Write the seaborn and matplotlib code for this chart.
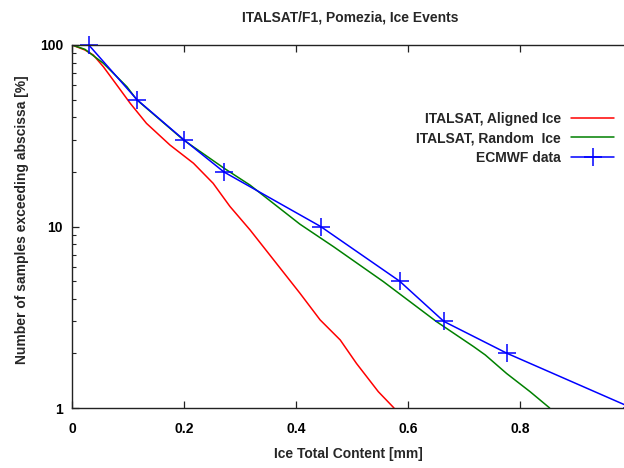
import numpy as np
import pandas as pd
import matplotlib
matplotlib.use('Agg')
import matplotlib.pyplot as plt
from matplotlib.ticker import LogLocator, FixedLocator, NullFormatter
import seaborn as sns

# values
aligned_x = [0.0, 0.023, 0.038, 0.056, 0.080, 0.104, 0.133, 0.175, 0.217, 0.252,
             0.282, 0.318, 0.407, 0.443, 0.479, 0.508, 0.547, 0.575]
aligned_y = [100, 93.9, 88.1, 75.9, 60.2, 47.7, 37.0, 28.1, 22.3, 17.3,
             12.9, 9.57, 4.29, 3.06, 2.37, 1.76, 1.23, 1.0]

random_x = [0.0, 0.023, 0.056, 0.098, 0.116, 0.199, 0.272, 0.318, 0.407, 0.467,
            0.556, 0.651, 0.717, 0.738, 0.776, 0.818, 0.853]
random_y = [100, 94.7, 79.3, 58.9, 49.8, 30.0, 20.9, 16.9, 10.3, 7.74,
            4.97, 2.99, 2.18, 1.96, 1.55, 1.23, 1.0]

ecmwf_x = [0.03, 0.116, 0.2, 0.271, 0.444, 0.585, 0.664, 0.777, 1.0]
ecmwf_y = [100, 50, 30, 20, 10, 5, 3, 2, 1]

x_ticks = [0, 0.2, 0.4, 0.6, 0.8]
x_tick_labels = ['0', '0.2', '0.4', '0.6', '0.8']
y_ticks = [1, 10, 100]
y_tick_labels = ['1', '10', '100']

sns.set_style('ticks')
plt.rcParams['font.family'] = ['Liberation Sans', 'DejaVu Sans']
plt.rcParams['font.weight'] = 'bold'
plt.rcParams['font.size'] = 10

fig = plt.figure(figsize=(6.24, 4.68), dpi=100)
ax = fig.add_axes([72 / 624, 1 - 408 / 468, 1 - 72 / 624, (408 - 45) / 468])

df_a = pd.DataFrame({'x': aligned_x, 'y': aligned_y})
df_r = pd.DataFrame({'x': random_x, 'y': random_y})
df_e = pd.DataFrame({'x': ecmwf_x, 'y': ecmwf_y})

sns.lineplot(data=df_a, x='x', y='y', ax=ax, color='#ff0000', lw=1.1,
             sort=False, estimator=None, label='ITALSAT, Aligned Ice')
sns.lineplot(data=df_r, x='x', y='y', ax=ax, color='#008000', lw=1.1,
             sort=False, estimator=None, label='ITALSAT, Random  Ice')
sns.lineplot(data=df_e, x='x', y='y', ax=ax, color='#0000ff', lw=1.1,
             sort=False, estimator=None, marker='+', markersize=13, mew=1.1,
             markeredgecolor='#0000ff', label='ECMWF data', clip_on=False)

ax.set_yscale('log')
ax.set_xlim(0, 552 / 560)
ax.set_ylim(1, 100)

ax.xaxis.set_major_locator(FixedLocator(x_ticks))
ax.set_xticklabels(x_tick_labels)
ax.yaxis.set_major_locator(FixedLocator(y_ticks))
ax.set_yticklabels(y_tick_labels)
ax.yaxis.set_minor_locator(LogLocator(base=10, subs=np.arange(2, 10)))
ax.yaxis.set_minor_formatter(NullFormatter())

ax.tick_params(axis='both', which='major', direction='in', length=5, width=0.9,
               top=True, right=False, labelsize=10, colors='#222222',
               labelcolor='black')
ax.tick_params(axis='y', which='minor', direction='in', length=3, width=0.8,
               right=False, colors='#222222')
ax.tick_params(axis='x', pad=10)
ax.tick_params(axis='y', pad=6.5)

for side in ['left', 'bottom', 'top']:
    ax.spines[side].set_linewidth(1.0)
    ax.spines[side].set_color('#222222')
ax.spines['right'].set_visible(False)

ax.set_xlabel('Ice Total Content [mm]', fontweight='bold', fontsize=10, labelpad=8)
ax.set_ylabel('Number of samples exceeding abscissa [%]', fontweight='bold',
              fontsize=10, va='center')
ax.yaxis.set_label_coords(-50 / 552, 0.52)
fig.suptitle('ITALSAT/F1, Pomezia, Ice Events', fontweight='bold', fontsize=10,
             y=1 - 18 / 468, va='center', x=350 / 624)

leg = ax.legend(loc='upper right', bbox_to_anchor=(1.005, 0.851), frameon=False,
                markerfirst=False, handlelength=3.1, handletextpad=0.72,
                labelspacing=0.4, fontsize=10)

fig.savefig('out.png', dpi=100)
